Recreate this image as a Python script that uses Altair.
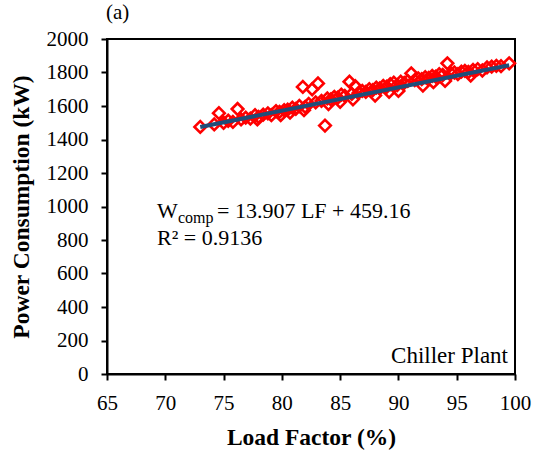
import altair as alt
import pandas as pd

# Scatter data: load factor (%) and power consumption (kW)
lf = [73.0, 74.2, 74.6, 75.0, 75.4, 75.8, 76.2, 76.5, 76.9, 77.3, 77.7, 78.0, 78.4, 78.8,
      79.1, 79.5, 79.8, 80.2, 80.5, 80.9, 81.2, 81.5, 81.8, 82.0, 82.3, 82.6, 82.9, 83.1,
      83.4, 83.7, 83.9, 84.2, 84.5, 84.8, 85.1, 85.4, 85.8, 86.0, 86.3, 86.6, 86.9, 87.2,
      87.5, 87.8, 88.1, 88.4, 88.7, 89.0, 89.3, 89.6, 89.9, 90.2, 90.5, 90.8, 91.1, 91.4,
      91.7, 92.0, 92.3, 92.6, 92.9, 93.2, 93.5, 93.8, 94.2, 94.5, 94.8, 95.1, 95.4, 95.7,
      96.0, 96.4, 96.8, 97.2, 97.6, 98.0, 98.4, 98.8, 99.5,
      77.9, 79.9, 81.9, 84.0, 86.1, 88.0, 90.0, 92.1, 94.0, 96.2, 80.7, 85.0, 89.2, 93.0]
pw = [1475, 1490, 1557, 1500, 1512, 1505, 1582, 1520, 1530, 1525, 1545, 1535, 1548, 1556,
      1545, 1570, 1565, 1575, 1578, 1590, 1583, 1600, 1714, 1595, 1612, 1700, 1622, 1735,
      1630, 1483, 1645, 1640, 1655, 1650, 1668, 1660, 1745, 1672, 1718, 1680, 1690, 1684,
      1700, 1695, 1710, 1705, 1720, 1715, 1730, 1740, 1725, 1745, 1738, 1750, 1795, 1755,
      1765, 1760, 1772, 1768, 1780, 1775, 1790, 1785, 1855, 1795, 1800, 1790, 1805, 1810,
      1803, 1815, 1820, 1812, 1830, 1835, 1840, 1838, 1855,
      1520, 1545, 1575, 1612, 1640, 1662, 1690, 1722, 1750, 1782, 1560, 1625, 1685, 1742]

# Fitted regression: W_comp = 13.907 LF + 459.16
slope = 13.907
intercept = 459.16
line_lf = [73.0, 99.5]
line_pw = [slope * v + intercept for v in line_lf]

x_ticks = [65, 70, 75, 80, 85, 90, 95, 100]
y_ticks = [0, 200, 400, 600, 800, 1000, 1200, 1400, 1600, 1800, 2000]

FONT = "Liberation Serif"

df = pd.DataFrame({"lf": lf, "pw": pw})
dl = pd.DataFrame({"lf": line_lf, "pw": line_pw})

xenc = alt.X("lf:Q", scale=alt.Scale(domain=[65, 100], nice=False, zero=False),
             axis=alt.Axis(values=x_ticks, title="Load Factor (%)", labelPadding=12,
                           titlePadding=12, format="d", labelFlush=False,
                           labelOverlap=False))
yenc = alt.Y("pw:Q", scale=alt.Scale(domain=[0, 2000], nice=False, zero=False),
             axis=alt.Axis(values=y_ticks, title="Power Consumption (kW)", labelPadding=13,
                           titlePadding=13, format="d", labelFlush=False,
                           labelOverlap=False, tickCount=11))

scatter = alt.Chart(df).mark_point(shape="diamond", filled=False, color="#FF0000",
                                   size=135, strokeWidth=2.6, opacity=1).encode(x=xenc, y=yenc)

line = alt.Chart(dl).mark_line(color="#1F4E79", strokeWidth=4).encode(x=xenc, y=yenc)

def txt(t, x, y, size=22, align="left"):
    return alt.Chart(pd.DataFrame({"t": [t]})).mark_text(
        font=FONT, fontSize=size, align=align, baseline="alphabetic", color="black"
    ).encode(x=alt.value(x), y=alt.value(y), text="t:N")

ann = [
    txt("W", 50, 179),
    txt("comp", 71, 184, size=16),
    txt("= 13.907 LF + 459.16", 110, 179),
    txt("R² = 0.9136", 50, 206),
    txt("Chiller Plant", 401, 324, size=23, align="right"),
    txt("(a)", -1, -20, size=21),
]

chart = alt.layer(scatter, line, *ann).properties(
    width=408, height=335,
    autosize=alt.AutoSizeParams(type="none"),
    padding={"left": 107, "top": 39, "right": 22, "bottom": 79},
).configure_view(stroke="black", strokeWidth=2).configure_axis(
    grid=False, domainColor="black", domainWidth=2, tickColor="black", tickWidth=2,
    tickSize=6, labelFont=FONT, labelFontSize=21, labelColor="black",
    titleFont=FONT, titleFontSize=23.5, titleFontWeight="bold", titleColor="black",
    labelOverlap=False,
)

chart.save("out.html", embed_options={"renderer": "svg", "actions": False})
